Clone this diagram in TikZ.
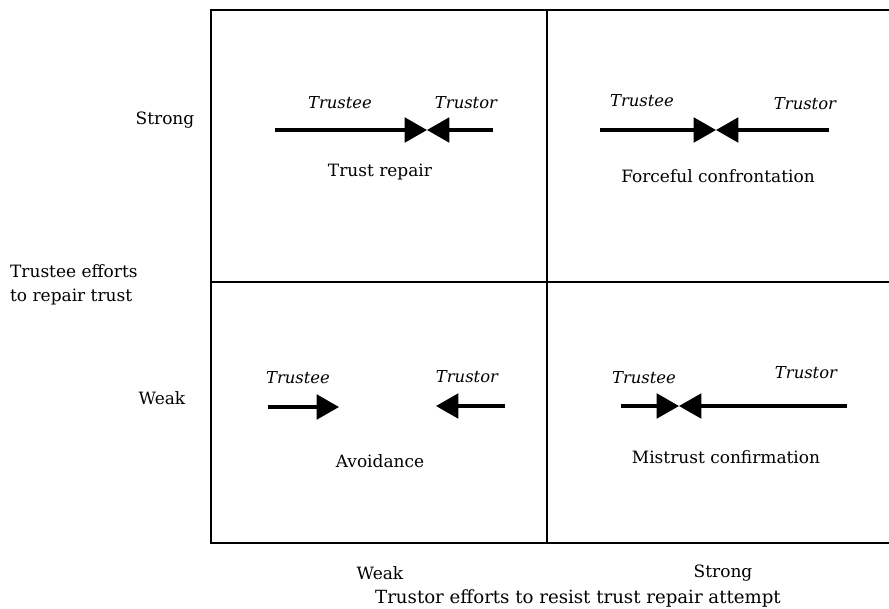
\documentclass[tikz,border=0pt]{standalone}
\usepackage{fontspec}
\setmainfont{DejaVu Serif}
\usetikzlibrary{arrows.meta}

\begin{document}
\begin{tikzpicture}[x=0.03cm,y=-0.03cm,
    push/.style={line width=2.6pt,-{Triangle[length=19pt,width=21pt]}},
    who/.style={font=\itshape\fontsize{14}{16}\selectfont},
    lab/.style={font=\fontsize{14.5}{17}\selectfont},
    grid/.style={line width=1.3pt}]
  \useasboundingbox (0,0) rectangle (889,608);
  % frame
  \draw[grid] (895,10) -- (211,10) -- (211,543) -- (895,543);
  \draw[grid] (547,10) -- (547,543);
  \draw[grid] (211,282) -- (895,282);
  % axes
  \node[lab] (ystrong) at (165,120) {Strong};
  \node[lab] (yweak) at (162,398) {Weak};
  \node[lab,font=\fontsize{14.5}{21}\selectfont,anchor=west,align=left] (ytitle) at (6,285) {Trustee efforts\\to repair trust};
  \node[lab] (xweak) at (380,573) {Weak};
  \node[lab] (xstrong) at (723,573) {Strong};
  \node[lab,font=\fontsize{15.5}{18}\selectfont] (xtitle) at (578,598) {Trustor efforts to resist trust repair attempt};
  % trust repair
  \node[who] (eA) at (340,103) {Trustee};
  \node[who] (oA) at (466,103) {Trustor};
  \coordinate (eAs) at (275,130);
  \coordinate (oAs) at (493,130);
  \coordinate (mA) at (427,130);
  \draw[push] (eAs) -- (mA);
  \draw[push] (oAs) -- (mA);
  \node[lab] (qA) at (380,172) {Trust repair};
  % forceful confrontation
  \node[who] (eB) at (642,101) {Trustee};
  \node[who] (oB) at (805,104) {Trustor};
  \coordinate (eBs) at (600,130);
  \coordinate (oBs) at (829,130);
  \coordinate (mB) at (716,130);
  \draw[push] (eBs) -- (mB);
  \draw[push] (oBs) -- (mB);
  \node[lab] (qB) at (718,176) {Forceful confrontation};
  % avoidance
  \node[who] (eC) at (298,378) {Trustee};
  \node[who] (oC) at (467,377) {Trustor};
  \coordinate (eCs) at (268,407);
  \coordinate (eCt) at (339,407);
  \coordinate (oCs) at (505,406);
  \coordinate (oCt) at (436,406);
  \draw[push] (eCs) -- (eCt);
  \draw[push] (oCs) -- (oCt);
  \node[lab] (qC) at (380,461) {Avoidance};
  % mistrust confirmation
  \node[who] (eD) at (644,378) {Trustee};
  \node[who] (oD) at (806,373) {Trustor};
  \coordinate (eDs) at (621,406);
  \coordinate (oDs) at (847,406);
  \coordinate (mD) at (679,406);
  \draw[push] (eDs) -- (mD);
  \draw[push] (oDs) -- (mD);
  \node[lab] (qD) at (726,457) {Mistrust confirmation};
\end{tikzpicture}
\end{document}
